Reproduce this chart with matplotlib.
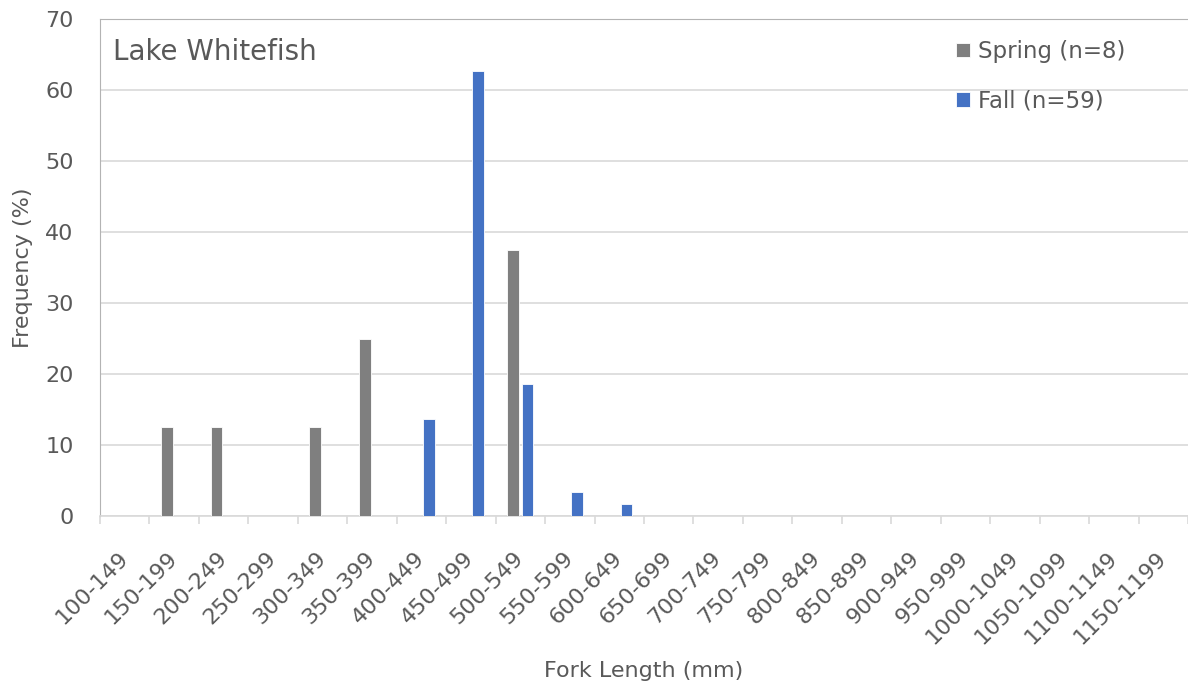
"""Fork length frequency histogram for Lake Whitefish, spring vs fall catch."""
import matplotlib
matplotlib.use("Agg")
import matplotlib.pyplot as plt
import numpy as np

# ---- data -----------------------------------------------------------------
length_bins = [
    "100-149", "150-199", "200-249", "250-299", "300-349", "350-399",
    "400-449", "450-499", "500-549", "550-599", "600-649", "650-699",
    "700-749", "750-799", "800-849", "850-899", "900-949", "950-999",
    "1000-1049", "1050-1099", "1100-1149", "1150-1199",
]
spring_pct = [0, 12.5, 12.5, 0, 12.5, 25.0, 0, 0, 37.5, 0, 0, 0,
              0, 0, 0, 0, 0, 0, 0, 0, 0, 0]
fall_pct = [0, 0, 0, 0, 0, 0, 13.6, 62.7, 18.6, 3.4, 1.7, 0,
            0, 0, 0, 0, 0, 0, 0, 0, 0, 0]
series_labels = ["Spring (n=8)", "Fall (n=59)"]
yticks = [0, 10, 20, 30, 40, 50, 60, 70]

TEXT = "#595959"
GRID = "#d9d9d9"
SPINE = "#b3b3b3"
GREY = "#7f7f7f"
BLUE = "#4472c4"

W, H = 1188, 688


def main() -> None:
    fig = plt.figure(figsize=(W / 100, H / 100), dpi=100)
    left, bottom, top = 100 / W, (H - 516) / H, (H - 19) / H
    ax = fig.add_axes([left, bottom, 1 - left, top - bottom])

    x = np.arange(len(length_bins))
    bw, off = 0.24, 0.145
    ax.bar(x - off, spring_pct, bw, color=GREY, edgecolor="white", lw=0.6,
           label=series_labels[0], zorder=3)
    ax.bar(x + off, fall_pct, bw, color=BLUE, edgecolor="white", lw=0.6,
           label=series_labels[1], zorder=3)

    px_per_cat = 49.7
    ax.set_xlim(-0.5, -0.5 + (W - 100) / px_per_cat)
    ax.set_ylim(0, 70)

    # y axis: gridlines, no tick marks
    ax.set_yticks(yticks)
    ax.yaxis.grid(True, color=GRID, lw=1.2, zorder=0)
    ax.tick_params(axis="y", length=0, pad=19, labelsize=16, labelcolor=TEXT)

    # x axis: labels at centres, tick marks on category boundaries
    ax.set_xticks(x)
    ax.set_xticklabels(length_bins, rotation=45, ha="right", va="center",
                       rotation_mode="anchor")
    ax.set_xticks(np.arange(len(length_bins) + 1) - 0.5, minor=True)
    ax.tick_params(axis="x", which="major", length=0, pad=28,
                   labelsize=16, labelcolor=TEXT)
    ax.tick_params(axis="x", which="minor", length=6, width=1.2, color=GRID)

    ax.spines["right"].set_visible(False)
    ax.spines["bottom"].set_color(GRID)
    ax.spines["bottom"].set_linewidth(1.2)
    ax.spines["left"].set_color(SPINE)
    ax.spines["top"].set_color(SPINE)

    ax.set_ylabel("Frequency (%)", fontsize=16, color=TEXT)
    ax.yaxis.set_label_coords((33 - 100) / (W - 100), 0.5)
    ax.set_xlabel("Fork Length (mm)", fontsize=16, color=TEXT)
    ax.xaxis.set_label_coords(0.5, (516 - 661) / 497)

    fig.text(113 / W, 1 - 60 / H, "Lake Whitefish", fontsize=20, color=TEXT,
             va="baseline")

    ax.legend(loc="upper left", bbox_to_anchor=(956 / W, 1 - 40 / H),
              bbox_transform=fig.transFigure, frameon=False, fontsize=16.5,
              handlelength=0.62, handleheight=0.62, handletextpad=0.35,
              labelspacing=1.15, borderpad=0, borderaxespad=0, labelcolor=TEXT)

    fig.savefig("out.png", dpi=100)
    plt.close(fig)


if __name__ == "__main__":
    main()
